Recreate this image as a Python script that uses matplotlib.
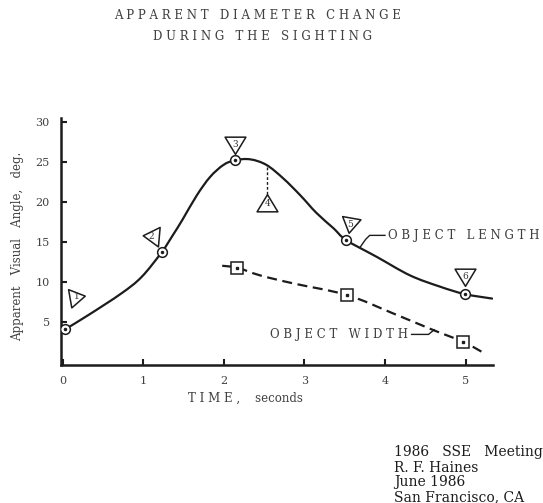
import numpy as np
import matplotlib
matplotlib.use("Agg")
import matplotlib.pyplot as plt
from matplotlib.path import Path
from matplotlib.patches import PathPatch

# object length curve
length_t = [0.03, 0.32, 0.73, 0.98, 1.23, 1.36, 1.49, 1.665, 1.83, 1.995, 2.14, 2.33,
            2.53, 2.74, 2.95, 3.15, 3.36, 3.52, 3.90, 4.31, 4.68, 4.99, 5.33]
length_deg = [4.05, 5.84, 8.55, 10.6, 13.7, 15.7, 17.8, 20.8, 23.1, 24.6, 25.2, 25.3,
              24.6, 22.9, 20.8, 18.6, 16.7, 15.2, 13.1, 10.8, 9.4, 8.46, 7.9]
length_pts_t = [0.03, 1.23, 2.14, 3.52, 4.99]
length_pts_deg = [4.05, 13.7, 25.2, 15.2, 8.46]

# object width curve
width_t = [1.98, 2.17, 2.45, 2.86, 3.53, 4.10, 4.60, 4.97, 5.20]
width_deg = [12.0, 11.75, 10.8, 9.8, 8.34, 6.05, 3.96, 2.5, 1.25]
width_pts_t = [2.17, 3.53, 4.97]
width_pts_deg = [11.75, 8.34, 2.5]

# numbered triangle flags
flag_labels = ["1", "2", "3", "4", "5", "6"]
flag_t = [0.18, 1.10, 2.14, 2.54, 3.57, 4.99]
flag_deg = [8.1, 15.7, 27.1, 19.8, 17.1, 10.6]
flag_rot = [100, -95, 0, 180, -10, 0]

xticks = [0, 1, 2, 3, 4, 5]
yticks = [5, 10, 15, 20, 25, 30]

INK = "#1c1c1c"
TXT = "#404040"
SERIF = "DejaVu Serif"


def spaced(s):
    return "   ".join(" ".join(w) for w in s.split(" "))


def smooth(xs, ys):
    # catmull-rom through the read points, drawn as cubic bezier
    p = np.column_stack([xs, ys])
    ext = np.vstack([p[0], p, p[-1]])
    verts = [tuple(p[0])]
    codes = [Path.MOVETO]
    for i in range(1, len(p)):
        p0, p1, p2, p3 = ext[i - 1], ext[i], ext[i + 1], ext[i + 2]
        verts += [tuple(p1 + (p2 - p0) / 6), tuple(p2 - (p3 - p1) / 6), tuple(p2)]
        codes += [Path.CURVE4] * 3
    return Path(verts, codes)


def tri_marker(rot):
    v = np.array([[-1.0, 0.8], [1.0, 0.8], [0.0, -0.85], [-1.0, 0.8]])
    a = np.deg2rad(rot)
    r = np.array([[np.cos(a), -np.sin(a)], [np.sin(a), np.cos(a)]])
    return Path(v @ r.T, closed=True)


fig = plt.figure(figsize=(5.43, 5.03), dpi=100)
ax = fig.add_axes([0.1123, 0.2744, 0.7956, 0.491])
ax.set_xlim(-0.02, 5.34)
ax.set_ylim(-0.4, 30.47)

for s in ["top", "right"]:
    ax.spines[s].set_visible(False)
for s in ["left", "bottom"]:
    ax.spines[s].set_linewidth(1.8)
    ax.spines[s].set_color(INK)

ax.set_xticks(xticks)
ax.set_yticks(yticks)
ax.tick_params(direction="in", length=4, width=1.5, color=INK,
               labelsize=8, labelcolor=TXT, pad=8)
for lab in ax.get_xticklabels() + ax.get_yticklabels():
    lab.set_family(SERIF)

ax.add_patch(PathPatch(smooth(length_t, length_deg), fill=False,
                       lw=1.6, ec=INK, capstyle="round"))
ax.add_patch(PathPatch(smooth(width_t, width_deg), fill=False,
                       lw=1.6, ec=INK, ls=(0, (4.5, 2.5))))

ax.plot(length_pts_t, length_pts_deg, "o", ms=7, mfc="white", mec=INK, mew=1.1, zorder=5)
ax.plot(length_pts_t, length_pts_deg, "o", ms=1.5, color=INK, zorder=6)
ax.plot(width_pts_t, width_pts_deg, "s", ms=8, mfc="white", mec=INK, mew=1.1, zorder=5)
ax.plot(width_pts_t, width_pts_deg, "s", ms=1.5, color=INK, zorder=6)

# dashed drop line for flag 4
ax.plot([2.53, 2.53], [24.4, 21.0], color=INK, lw=1.0, ls=(0, (2, 1.5)))

for lab, t, d, rot in zip(flag_labels, flag_t, flag_deg, flag_rot):
    ax.plot(t, d, marker=tri_marker(rot), ms=15, mfc="white", mec=INK, mew=1.1,
            clip_on=False, zorder=7)
    ax.text(t, d, lab, ha="center", va="center", fontsize=6.5, color="#333333",
            family=SERIF, zorder=8)

# leader lines
ax.plot([3.69, 3.76, 3.81, 4.0], [14.3, 15.3, 15.8, 15.8], color=INK, lw=1.0)
ax.text(4.04, 15.8, spaced("OBJECT LENGTH"), ha="left", va="center",
        fontsize=8.5, color=TXT, family=SERIF, clip_on=False)
ax.plot([4.33, 4.54, 4.61], [3.42, 3.42, 4.0], color=INK, lw=1.0)
ax.text(4.29, 3.42, spaced("OBJECT WIDTH"), ha="right", va="center",
        fontsize=8.5, color=TXT, family=SERIF)

ax.set_xlabel("T I M E ,    seconds", family=SERIF, fontsize=8.5, color=TXT, va="center")
ax.xaxis.set_label_coords(0.428, -0.134)
ax.set_ylabel("Apparent   Visual   Angle,   deg.", family=SERIF, fontsize=8.5,
              color=TXT, va="center")
ax.yaxis.set_label_coords(-0.0995, 0.482)

fig.text(0.475, 0.97, spaced("APPARENT DIAMETER CHANGE"), ha="center", va="center",
         fontsize=8.5, color=TXT, family=SERIF)
fig.text(0.483, 0.928, spaced("DURING THE SIGHTING"), ha="center", va="center",
         fontsize=8.5, color=TXT, family=SERIF)

fig.text(0.7256, 0.1014, "1986   SSE   Meeting", fontsize=10, color=INK, family=SERIF, va="center")
fig.text(0.7256, 0.0696, "R. F. Haines", fontsize=10, color=INK, family=SERIF, va="center")
fig.text(0.7256, 0.0417, "June 1986", fontsize=10, color=INK, family=SERIF, va="center")
fig.text(0.7256, 0.0119, "San Francisco, CA", fontsize=10, color=INK, family=SERIF, va="center")

fig.savefig("out.png", dpi=100)
